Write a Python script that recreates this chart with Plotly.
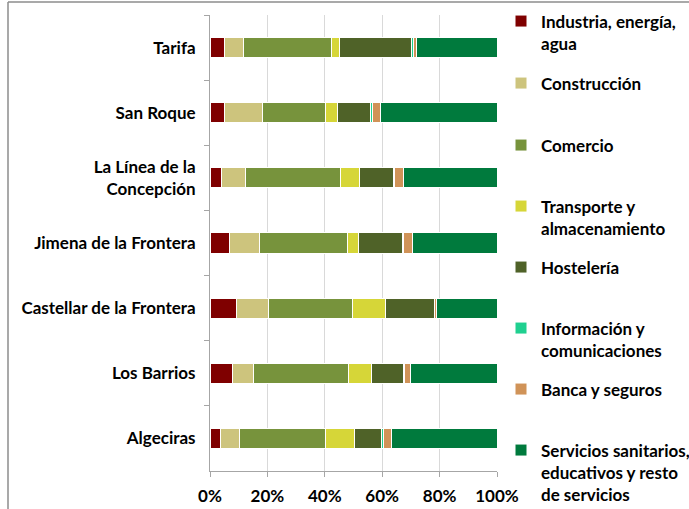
import plotly.graph_objects as go

municipios = ["Tarifa", "San Roque", "La Línea de la<br>Concepción", "Jimena de la Frontera",
              "Castellar de la Frontera", "Los Barrios", "Algeciras"]

sectores = ["Industria, energía,<br>agua", "Construcción", "Comercio", "Transporte y<br>almacenamiento",
            "Hostelería", "Información y<br>comunicaciones", "Banca y seguros",
            "Servicios sanitarios,<br>educativos y resto<br>de servicios"]

industria =   [5.0, 5.1, 4.1, 6.8, 9.4, 7.7, 3.5]
construccion = [6.8, 13.1, 8.1, 10.6, 11.0, 7.6, 6.8]
comercio =    [30.5, 21.9, 33.4, 30.5, 29.1, 33.1, 29.8]
transporte =  [2.7, 4.2, 6.4, 4.0, 11.5, 8.0, 10.4]
hosteleria =  [25.2, 11.6, 12.0, 15.0, 17.1, 11.1, 9.2]
informacion = [0.6, 0.6, 0.4, 0.5, 0.2, 0.4, 0.6]
banca =       [1.2, 2.9, 2.9, 3.1, 0.5, 1.8, 2.8]
servicios =   [28.0, 40.6, 32.7, 29.5, 21.2, 30.3, 36.9]

valores = [industria, construccion, comercio, transporte, hosteleria, informacion, banca, servicios]
colores = ["#7f0000", "#cdc47d", "#77933c", "#d6d638", "#4f6228", "#20d090", "#d09358", "#007a3d"]

x_ticks = [0, 20, 40, 60, 80, 100]
x_ticktext = ["0%", "20%", "40%", "60%", "80%", "100%"]

# plot-area geometry (pixels)
L, R, T, B = 210, 497, 15, 471
W, H = 689, 509
pw, ph = R - L, B - T

legend_centers = [22, 84, 146, 207, 268, 329, 390, 451]

fig = go.Figure()
font_fam = "Lato, 'Open Sans', sans-serif"
for i, (name, vals, col) in enumerate(zip(sectores, valores, colores)):
    lg = "legend" if i == 0 else f"legend{i+1}"
    fig.add_trace(go.Bar(
        y=municipios, x=vals, name=name, orientation="h",
        marker=dict(color=col, line=dict(color="white", width=1)),
        legend=lg,
    ))

layout_legends = {}
for i, c in enumerate(legend_centers):
    key = "legend" if i == 0 else f"legend{i+1}"
    top_px = c - 18.5
    layout_legends[key] = dict(
        x=(501 - L) / pw, xanchor="left",
        y=1 + (T - top_px) / ph, yanchor="top",
        bgcolor="rgba(0,0,0,0)", valign="top",
        font=dict(family=font_fam, size=17, color="black", weight="bold"),
    )

border_col = "#8c8c8c"
top_y = 1 + (T - 2) / ph
left_x = (8 - L) / pw
fig.update_layout(
    width=W, height=H,
    margin=dict(l=L, r=W - R, t=T, b=H - B, autoexpand=False),
    paper_bgcolor="white", plot_bgcolor="white",
    barmode="stack", bargap=0.69,
    showlegend=True,
    font=dict(family=font_fam, size=17, color="black", weight="bold"),
    xaxis=dict(
        range=[0, 100], tickvals=x_ticks, ticktext=x_ticktext,
        showgrid=True, gridcolor="#d9d9d9", gridwidth=1,
        showline=True, linecolor="#a6a6a6", linewidth=1,
        ticks="outside", ticklen=5, tickcolor="#a6a6a6",
        zeroline=False, automargin=False, ticklabelstandoff=5,
        tickfont=dict(family=font_fam, size=17, color="black", weight="bold"),
    ),
    yaxis=dict(
        autorange="reversed", showgrid=False,
        showline=True, linecolor="#a6a6a6", linewidth=1,
        ticks="outside", ticklen=5, tickcolor="#a6a6a6", tickson="boundaries",
        automargin=False,
        tickfont=dict(family=font_fam, size=17, color="black", weight="bold"),
        ticklabelstandoff=10,
    ),
    shapes=[
        dict(type="line", xref="paper", yref="paper",
             x0=left_x, x1=(W + 5 - L) / pw, y0=top_y, y1=top_y,
             line=dict(color=border_col, width=1.5)),
        dict(type="line", xref="paper", yref="paper",
             x0=left_x, x1=left_x, y0=top_y, y1=(B - H - 5) / ph,
             line=dict(color=border_col, width=1.5)),
    ],
    **layout_legends,
)

fig.write_html("out.html", config={"displayModeBar": False},
               post_script="document.body.style.margin='0';document.body.style.overflow='hidden';")
